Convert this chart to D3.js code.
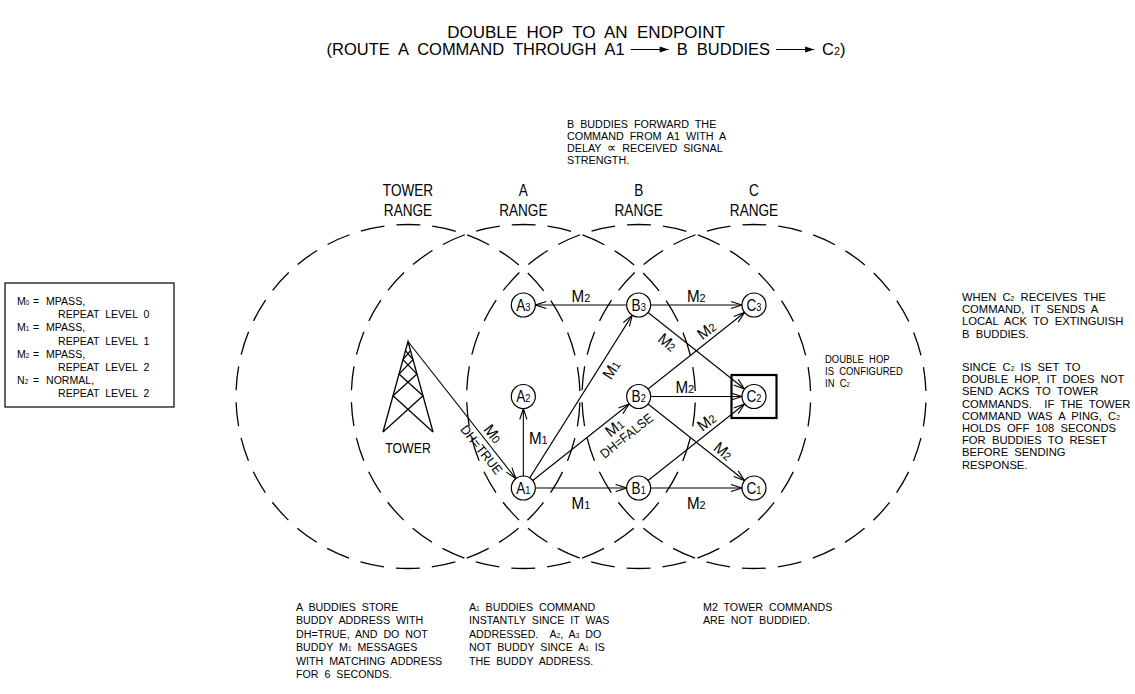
<!DOCTYPE html>
<html>
<head>
<meta charset="utf-8">
<script src="https://cdn.jsdelivr.net/npm/d3@7"></script>
<style>
    html, body { margin: 0; padding: 0; background: #fff; }
    svg text { font-family: "Liberation Sans", Arial, sans-serif; fill: #000; white-space: pre; }
</style>
</head>
<body>
<svg id="chart" width="1135" height="694"></svg>
<script>
// ---- data ----
const ranges = ["TOWER", "A", "B", "C"]
const rows = [3, 2, 1]
const nodes = ["A1", "A2", "A3", "B1", "B2", "B3", "C1", "C2", "C3"]
const target = "C2"

// source, target, label, second label
const edges = [
    ["TOWER", "A1", "M_0", "DH=TRUE"],
    ["A1", "A2", "M_1"],
    ["A1", "B3", "M_1"],
    ["A1", "B2", "M_1", "DH=FALSE"],
    ["A1", "B1", "M_1"],
    ["B3", "A3", "M_2"],
    ["B3", "C3", "M_2"],
    ["B3", "C2", "M_2"],
    ["B2", "C3", "M_2"],
    ["B2", "C2", "M_2"],
    ["B2", "C1", "M_2"],
    ["B1", "C2", "M_2"],
    ["B1", "C1", "M_2"]
]

const legendCodes = ["M_0", "M_1", "M_2", "N_2"]
const legendTypes = ["MPASS,", "MPASS,", "MPASS,", "NORMAL,"]
const legendLevels = [0, 1, 2, 2]

const titleLine1 = "DOUBLE  HOP  TO  AN  ENDPOINT"
const titleLine2 = ["(ROUTE  A  COMMAND  THROUGH  A1", "B  BUDDIES", "C_2)"]

const noteTop = ["B  BUDDIES  FORWARD  THE", "COMMAND  FROM  A1  WITH  A", "DELAY  \u221D  RECEIVED  SIGNAL", "STRENGTH."]
const noteHop = ["DOUBLE  HOP", "IS  CONFIGURED", "IN  C_2"]
const noteAck = ["WHEN  C_2  RECEIVES  THE", "COMMAND,  IT  SENDS  A", "LOCAL  ACK  TO  EXTINGUISH", "B  BUDDIES."]
const noteSince = ["SINCE  C_2  IS  SET  TO", "DOUBLE  HOP,  IT  DOES  NOT", "SEND  ACKS  TO  TOWER", "COMMANDS.    IF  THE  TOWER",
    "COMMAND  WAS  A  PING,  C_2", "HOLDS  OFF  108  SECONDS", "FOR  BUDDIES  TO  RESET", "BEFORE  SENDING", "RESPONSE."]
const noteA = ["A  BUDDIES  STORE", "BUDDY  ADDRESS  WITH", "DH=TRUE,  AND  DO  NOT", "BUDDY  M_1  MESSAGES", "WITH  MATCHING  ADDRESS", "FOR  6  SECONDS."]
const noteA1 = ["A_1  BUDDIES  COMMAND", "INSTANTLY  SINCE  IT  WAS", "ADDRESSED.    A_2,  A_3  DO", "NOT  BUDDY  SINCE  A_1  IS", "THE  BUDDY  ADDRESS."]
const noteM2 = ["M2  TOWER  COMMANDS", "ARE  NOT  BUDDIED."]

// ---- layout ----
const rangeRadius = 172
const nodeRadius = 12
const tipY = 341.5
const titleX = 586

// where each edge label sits: t along the edge, off across it (text frame)
const labelLayout = {
    "TOWER-A1": [{ t: .67, off: -10 }, { t: .70, off: 9, small: true }],
    "A1-A2": [{ t: .5, dx: 15, dy: -4, flat: true }],
    "A1-B3": [{ t: .68, off: 11 }],
    "A1-B2": [{ t: .74, off: 9 }, { t: .77, off: 23, small: true }],
    "A1-B1": [{ t: .5, dx: 0, dy: 15, flat: true }],
    "B3-A3": [{ t: .5, dx: 0, dy: -9, flat: true }],
    "B3-C3": [{ t: .5, dx: 0, dy: -9, flat: true }],
    "B3-C2": [{ t: .31, off: 11 }],
    "B2-C3": [{ t: .64, off: -10 }],
    "B2-C2": [{ t: .4, dx: 0, dy: -9, flat: true }],
    "B2-C1": [{ t: .68, off: -10 }],
    "B1-C2": [{ t: .64, off: -10 }],
    "B1-C1": [{ t: .5, dx: 0, dy: 15, flat: true }]
}

const svg = d3.select("#chart")

const x = d3.scalePoint().domain(ranges).range([408, 754])
const y = d3.scalePoint().domain(rows).range([305, 488])

const pos = id => id === "TOWER" ? { x: x("TOWER"), y: tipY } : { x: x(id[0]), y: y(+id[1]) }

// text with "_d" subscripts, squeezed horizontally like the CAD font
function label(g, str, px, py, o) {
    const size = o.size
    const sx = o.sx == null ? 0.85 : o.sx
    let tr = `translate(${px},${py})`
    if (o.rot) tr += ` rotate(${o.rot})`
    tr += ` scale(${sx},1)`
    const t = g.append("text")
        .attr("transform", tr)
        .attr("text-anchor", o.anchor || "start")
        .attr("font-size", size)
    if (o.dy) t.attr("dy", o.dy)
    str.split(/(_.|\u221D)/).filter(s => s).forEach(p => {
        if (p[0] === "_") t.append("tspan").attr("font-size", size * (o.sub || 0.62)).text(p[1])
        else if (p === "\u221D") t.append("tspan").attr("font-size", size * 1.2).text(p)
        else t.append("tspan").text(p)
    })
    return t
}

function block(lines, px, py, lh, o) {
    lines.forEach((l, i) => label(svg, l, px, py + i * lh, o))
}

const defs = svg.append("defs")
defs.append("marker")
    .attr("id", "open")
    .attr("viewBox", "-13 -6 14 12")
    .attr("refX", 0).attr("refY", 0)
    .attr("markerWidth", 14).attr("markerHeight", 12)
    .attr("markerUnits", "userSpaceOnUse")
    .attr("orient", "auto")
    .append("path")
    .attr("d", "M-11,-3.6L0,0L-11,3.6")
    .attr("fill", "none").attr("stroke", "#000").attr("stroke-width", 1.1)

defs.append("marker")
    .attr("id", "solid")
    .attr("viewBox", "-10 -5 11 10")
    .attr("refX", 0).attr("refY", 0)
    .attr("markerWidth", 11).attr("markerHeight", 10)
    .attr("markerUnits", "userSpaceOnUse")
    .attr("orient", "auto")
    .append("path")
    .attr("d", "M-9,-3L0,0L-9,3Z")
    .attr("fill", "#000")

// ---- title ----
label(svg, titleLine1, titleX, 38, { size: 17, anchor: "middle", sx: 1.0 })

const tg = svg.append("g")
let cursor = 0
titleLine2.forEach((s, i) => {
    const t = label(tg, s, cursor, 0, { size: 17, sx: 0.97, sub: 0.65 })
    cursor += t.node().getBBox().width * 0.97
    if (i < titleLine2.length - 1) {
        tg.append("line")
            .attr("x1", cursor + 6).attr("x2", cursor + 44)
            .attr("y1", -5.5).attr("y2", -5.5)
            .attr("stroke", "#000").attr("stroke-width", 1.1)
            .attr("marker-end", "url(#solid)")
        cursor += 52
    }
})
tg.attr("transform", `translate(${titleX - cursor / 2},55)`)

// ---- range circles ----
const circ = 2 * Math.PI * rangeRadius
const period = circ / 30
const dash = 24
svg.append("g").selectAll("circle")
    .data(ranges)
    .join("circle")
    .attr("cx", d => x(d))
    .attr("cy", y(2))
    .attr("r", rangeRadius)
    .attr("fill", "none")
    .attr("stroke", "#000")
    .attr("stroke-width", 1.3)
    .attr("stroke-dasharray", `${dash} ${period - dash}`)
    .attr("stroke-dashoffset", period - (circ * 0.75 - dash / 2) % period)

ranges.forEach(r => {
    label(svg, r, x(r), 196, { size: 17, anchor: "middle", sx: 0.8 })
    label(svg, "RANGE", x(r), 216, { size: 17, anchor: "middle", sx: 0.8 })
})

// ---- tower ----
const tw = svg.append("g").attr("stroke", "#000").attr("stroke-width", 1.3).attr("fill", "none")
const tx = x("TOWER"), baseY = 432, half = 25
const leg = (f, s) => [tx + s * half * f, tipY + (baseY - tipY) * f]
tw.append("polyline").attr("points", [leg(1, -1), leg(0, 0), leg(1, 1)].join(" "))
const levels = [1, 0.6, 0.36, 0.2, 0.1]
for (let i = 0; i < levels.length - 1; i++) {
    tw.append("line").attr("x1", leg(levels[i], -1)[0]).attr("y1", leg(levels[i], -1)[1])
        .attr("x2", leg(levels[i + 1], 1)[0]).attr("y2", leg(levels[i + 1], 1)[1])
    tw.append("line").attr("x1", leg(levels[i], 1)[0]).attr("y1", leg(levels[i], 1)[1])
        .attr("x2", leg(levels[i + 1], -1)[0]).attr("y2", leg(levels[i + 1], -1)[1])
}
label(svg, "TOWER", tx, 453, { size: 15, anchor: "middle", sx: 0.82 })

// ---- edges ----
const eg = svg.append("g")
edges.forEach(([s, t, l1, l2]) => {
    const a = pos(s), b = pos(t)
    const dx = b.x - a.x, dy = b.y - a.y
    const len = Math.hypot(dx, dy)
    const ux = dx / len, uy = dy / len
    const r0 = s === "TOWER" ? 0 : nodeRadius
    eg.append("line")
        .attr("x1", a.x + ux * r0).attr("y1", a.y + uy * r0)
        .attr("x2", b.x - ux * nodeRadius).attr("y2", b.y - uy * nodeRadius)
        .attr("stroke", "#000").attr("stroke-width", 1.1)
        .attr("marker-end", "url(#open)")

    let ang = Math.atan2(dy, dx) * 180 / Math.PI
    if (ang > 90) ang -= 180
    if (ang < -90) ang += 180
    const rad = ang * Math.PI / 180
    const nx = -Math.sin(rad), ny = Math.cos(rad)
    const lay = labelLayout[s + "-" + t];
    [l1, l2].forEach((txt, i) => {
        if (!txt) return
        const L = lay[i]
        const px = a.x + dx * L.t, py = a.y + dy * L.t
        const o = L.small ? { size: 13, sx: 0.95 } : { size: 16, sx: 0.95, sub: 0.72 }
        o.anchor = "middle"
        o.dy = "0.36em"
        if (L.flat) label(eg, txt, px + L.dx, py + L.dy, o)
        else {
            o.rot = ang
            label(eg, txt, px + nx * L.off, py + ny * L.off, o)
        }
    })
})

// ---- nodes ----
const ng = svg.append("g")
nodes.forEach(n => {
    const p = pos(n)
    ng.append("circle")
        .attr("cx", p.x).attr("cy", p.y).attr("r", nodeRadius)
        .attr("fill", "#fff").attr("stroke", "#000").attr("stroke-width", 1.2)
    label(ng, n[0] + "_" + n[1], p.x, p.y, { size: 16, anchor: "middle", sx: 0.85, dy: "0.36em", sub: 0.68 })
})
const tp = pos(target)
ng.append("rect")
    .attr("x", tp.x - 22.5).attr("y", tp.y - 21.5)
    .attr("width", 45).attr("height", 43)
    .attr("fill", "none").attr("stroke", "#000").attr("stroke-width", 2.2)

// ---- legend ----
svg.append("rect")
    .attr("x", 5).attr("y", 283).attr("width", 169).attr("height", 124)
    .attr("fill", "none").attr("stroke", "#000").attr("stroke-width", 1.2)
legendCodes.forEach((c, i) => {
    const by = 305 + i * 26.4
    const o = { size: 11.5, sx: 0.92, sub: 0.6 }
    label(svg, c, 17, by, o)
    label(svg, "=", 33, by, o)
    label(svg, legendTypes[i], 46, by, o)
    label(svg, "REPEAT  LEVEL  " + legendLevels[i], 58, by + 13.2, o)
})

// ---- notes ----
const small = { size: 11, sx: 0.97, sub: 0.6 }
block(noteTop, 567, 128, 12, { size: 11, sx: 0.98 })
block(noteHop, 825, 363, 11.8, { size: 11, sx: 0.86, sub: 0.6 })
block(noteAck, 962, 301, 12.2, { size: 11, sx: 1.02, sub: 0.6 })
block(noteSince, 962, 371, 12.2, { size: 11, sx: 1.02, sub: 0.6 })
block(noteA, 296, 611, 13.4, small)
block(noteA1, 469, 611, 13.4, small)
block(noteM2, 703, 611, 13.4, small)
</script>
</body>
</html>
